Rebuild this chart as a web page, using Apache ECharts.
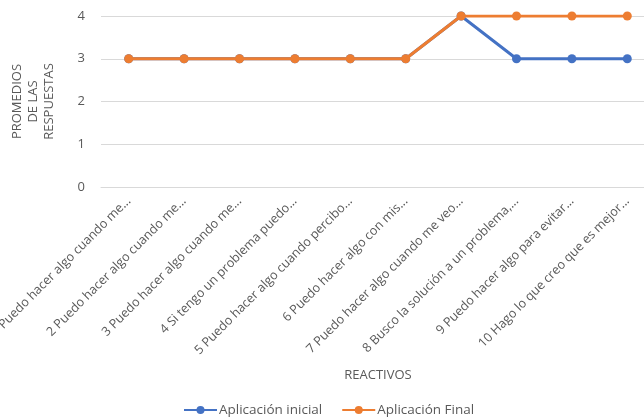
<!DOCTYPE html>
<html>
<head>
<meta charset="utf-8">
<script src="https://cdn.jsdelivr.net/npm/echarts@6/dist/echarts.min.js"></script>
<style>html,body{margin:0;padding:0;background:#fff;}#c{width:644px;height:419px;}</style>
</head>
<body>
<div id="c"></div>
<script>
const categories = [
  "1 Puedo hacer algo cuando me...",
  "2 Puedo hacer algo cuando me...",
  "3 Puedo hacer algo cuando me...",
  "4 Si tengo un problema puedo...",
  "5 Puedo hacer algo cuando percibo...",
  "6 Puedo hacer algo con mis...",
  "7 Puedo hacer algo cuando me veo...",
  "8 Busco la solución a un problema,...",
  "9 Puedo hacer algo para evitar...",
  "10 Hago lo que creo que es mejor..."
];
const inicial = [3, 3, 3, 3, 3, 3, 4, 3, 3, 3];
const final = [3, 3, 3, 3, 3, 3, 4, 4, 4, 4];
const yTicks = [0, 1, 2, 3, 4];

const font = "'Open Sans', sans-serif";
const chart = echarts.init(document.getElementById('c'), null, {renderer: 'canvas'});
chart.setOption({
  animation: false,
  textStyle: {fontFamily: font},
  grid: {left: 101, right: -11, top: 16, bottom: 232, containLabel: false, outerBoundsMode: 'none'},
  legend: {
    bottom: -3, left: 178, itemWidth: 33, itemHeight: 10, itemGap: 19,
    textStyle: {fontFamily: font, fontSize: 13.5, color: '#595959', padding: [0, 0, 0, -3]},
    data: ['Aplicación inicial', 'Aplicación Final']
  },
  xAxis: {
    type: 'category', data: categories, boundaryGap: true,
    name: 'REACTIVOS', nameLocation: 'middle', nameGap: 182,
    nameTextStyle: {fontFamily: font, fontSize: 13, color: '#595959'},
    axisLine: {lineStyle: {color: '#d9d9d9'}},
    axisTick: {show: false},
    axisLabel: {rotate: 45, fontSize: 12.6, color: '#595959', fontFamily: font, interval: 0, margin: 12}
  },
  yAxis: {
    type: 'value', min: yTicks[0], max: yTicks[yTicks.length - 1], interval: 1,
    name: 'PROMEDIOS\nDE LAS\nRESPUESTAS', nameLocation: 'middle', nameGap: 44, nameRotate: 90,
    nameTextStyle: {fontFamily: font, fontSize: 13, color: '#595959', lineHeight: 16, align: 'center'},
    axisLine: {show: false}, axisTick: {show: false},
    axisLabel: {fontSize: 13, color: '#595959', fontFamily: font, margin: 16},
    splitLine: {lineStyle: {color: '#d9d9d9', width: 1}}
  },
  series: [
    {name: 'Aplicación inicial', type: 'line', data: inicial, color: '#4472C4',
     symbol: 'circle', symbolSize: 9, lineStyle: {width: 3}, z: 2},
    {name: 'Aplicación Final', type: 'line', data: final, color: '#ED7D31',
     symbol: 'circle', symbolSize: 9, lineStyle: {width: 3}, z: 3}
  ]
});
</script>
</body>
</html>
